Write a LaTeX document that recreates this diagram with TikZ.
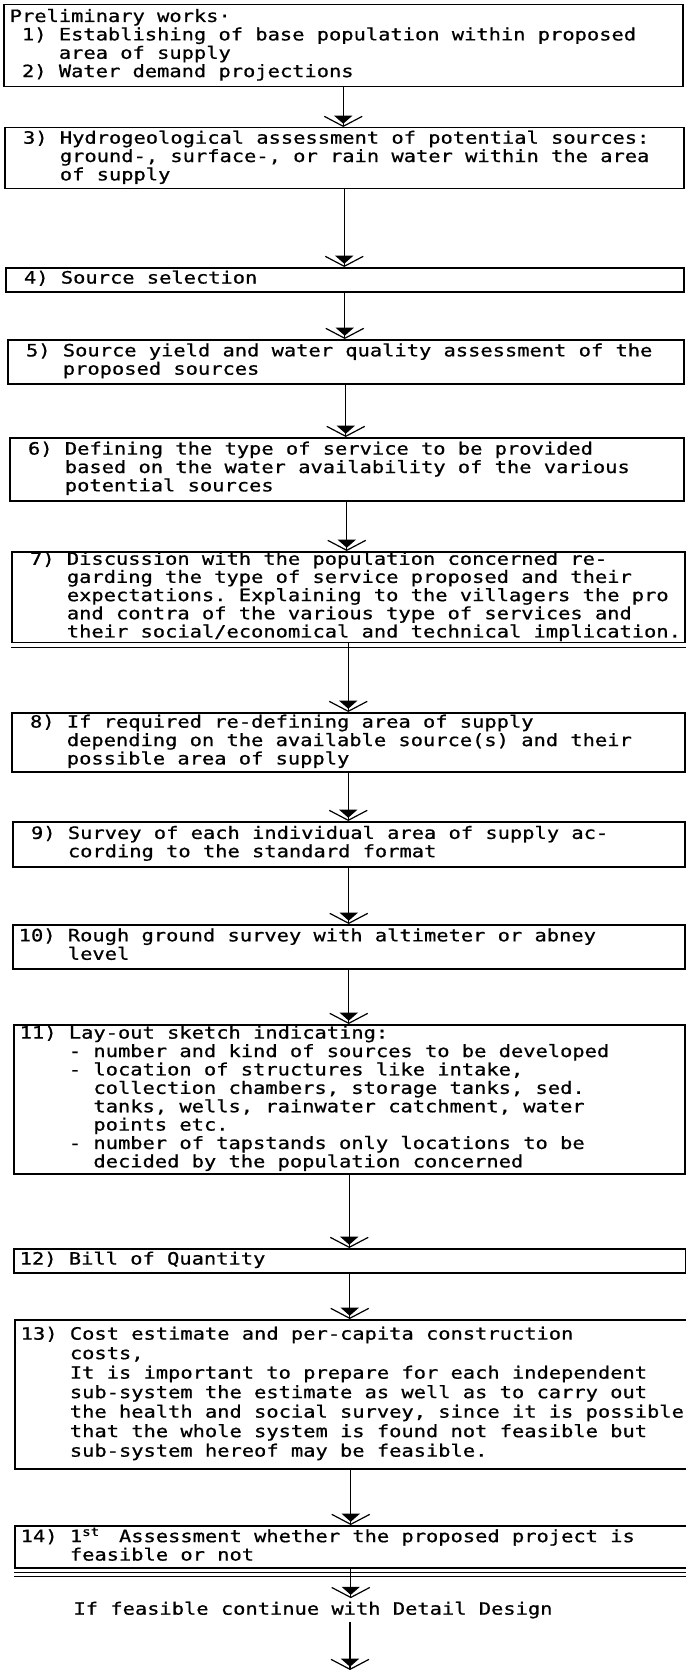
\documentclass[tikz,border=0pt]{standalone}
\usepackage{fontspec}
\setmainfont{DejaVu Sans Mono}[FakeStretch=1.2, FakeBold=0.8]
\usetikzlibrary{arrows.meta,positioning}
\newcommand{\stepfont}{\fontsize{17}{18}\selectfont\frenchspacing}
\newcommand{\steplines}[1]{\spaceskip=0pt\xspaceskip=0pt\begin{tabular}{@{}l@{}}#1\end{tabular}}
\newcommand{\padone}{\phantom{0}}
\newcommand{\padfour}{\phantom{0000}}
\newcommand{\padsix}{\phantom{000000}}

\begin{document}
\begin{tikzpicture}[x=1pt, y=-1pt,
    stepbox/.style={rectangle, draw, line width=1.5pt, anchor=north west, inner xsep=6pt, inner ysep=0pt, align=left, font=\stepfont},
    flow/.style={-{Triangle[width=18pt,length=8pt,sep=-8pt]Straight Barb[width=38pt,length=10pt,line width=1.2pt]}, line width=1.2pt}
]
    \useasboundingbox (0,0) rectangle (685,1672);

    % Steps
    \node[stepbox, text width=667pt, minimum height=82pt] (s1) at (3,4) {\steplines{
        Preliminary works·\\
        \padone1) Establishing of base population within proposed\\
        \padfour area of supply\\
        \padone2) Water demand projections}
    };

    \node[stepbox, text width=667pt, minimum height=61pt] (s3) at (4,127) {\steplines{
        \padone3) Hydrogeological assessment of potential sources:\\
        \padfour ground-, surface-, or rain water within the area\\
        \padfour of supply}
    };

    \node[stepbox, text width=666pt, minimum height=24pt] (s4) at (5,267) {\steplines{
        \padone4) Source selection}
    };

    \node[stepbox, text width=664pt, minimum height=44pt] (s5) at (7,339) {\steplines{
        \padone5) Source yield and water quality assessment of the\\
        \padfour proposed sources}
    };

    \node[stepbox, text width=662pt, minimum height=63pt] (s6) at (9,437) {\steplines{
        \padone6) Defining the type of service to be provided\\
        \padfour based on the water availability of the various\\
        \padfour potential sources}
    };

    \node[stepbox, text width=661pt, minimum height=90pt, font=\fontsize{17}{17.4}\selectfont\frenchspacing] (s7) at (11,551) {\steplines{
        \padone7) Discussion with the population concerned re-\\
        \padfour garding the type of service proposed and their\\
        \padfour expectations. Explaining to the villagers the pro\\
        \padfour and contra of the various type of services and\\
        \padfour their social/economical and technical implication.}
    };

    \node[stepbox, text width=661pt, minimum height=59pt] (s8) at (11,712) {\steplines{
        \padone8) If required re-defining area of supply\\
        \padfour depending on the available source(s) and their\\
        \padfour possible area of supply}
    };

    \node[stepbox, text width=660pt, minimum height=45pt] (s9) at (12,821) {\steplines{
        \padone9) Survey of each individual area of supply ac-\\
        \padfour cording to the standard format}
    };

    \node[stepbox, text width=660pt, minimum height=44pt] (s10) at (12,924) {\steplines{
        10) Rough ground survey with altimeter or abney\\
        \padfour level}
    };

    \node[stepbox, text width=659pt, minimum height=149pt] (s11) at (13,1024) {\steplines{
        11) Lay-out sketch indicating:\\
        \padfour - number and kind of sources to be developed\\
        \padfour - location of structures like intake,\\
        \padsix collection chambers, storage tanks, sed.\\
        \padsix tanks, wells, rainwater catchment, water\\
        \padsix points etc.\\
        \padfour - number of tapstands only locations to be\\
        \padsix decided by the population concerned}
    };

    \node[stepbox, text width=660pt, minimum height=24pt] (s12) at (13,1248) {\steplines{
        12) Bill of Quantity}
    };

    \node[stepbox, text width=660pt, minimum height=149pt, font=\fontsize{17}{19.5}\selectfont\frenchspacing] (s13) at (14,1319) {\steplines{
        13) Cost estimate and per-capita construction\\
        \padfour costs,\\
        \padfour It is important to prepare for each independent\\
        \padfour sub-system the estimate as well as to carry out\\
        \padfour the health and social survey, since it is possible\\
        \padfour that the whole system is found not feasible but\\
        \padfour sub-system hereof may be feasible.}
    };

    \node[stepbox, text width=660pt, minimum height=42pt] (s14) at (14,1525) {\steplines{
        14) 1\rlap{\textsuperscript{st}}\phantom{00} Assessment whether the proposed project is\\
        \padfour feasible or not}
    };

    \node[font=\stepfont, anchor=west] (cont) at (70,1610) {If feasible continue with Detail Design};
    \coordinate (end) at (350,1670);

    % Heavy edges
    \draw[line width=3pt] (s7.north east) -- (s7.south east);
    \draw[line width=0.8pt] ([yshift=-4pt]s7.south west) -- ([yshift=-4pt]s7.south east);
    \draw[line width=1.6pt] ([yshift=-4pt]s14.south west) -- ([yshift=-4pt]s14.south east);
    \draw[line width=1.2pt] ([yshift=-8pt]s14.south west) -- ([yshift=-8pt]s14.south east);

    % Arrows
    \draw[flow] (s1.south) -- (s1.south |- s3.north);
    \draw[flow] (s3.south) -- (s3.south |- s4.north);
    \draw[flow] (s4.south) -- (s4.south |- s5.north);
    \draw[flow] (s5.south) -- (s5.south |- s6.north);
    \draw[flow] (s6.south) -- (s6.south |- s7.north);
    \draw[flow] (s7.south) -- (s7.south |- s8.north);
    \draw[flow] (s8.south) -- (s8.south |- s9.north);
    \draw[flow] (s9.south) -- (s9.south |- s10.north);
    \draw[flow] (s10.south) -- (s10.south |- s11.north);
    \draw[flow] (s11.south) -- (s11.south |- s12.north);
    \draw[flow] (s12.south) -- (s12.south |- s13.north);
    \draw[flow] (s13.south) -- (s13.south |- s14.north);
    \draw[flow] (s14.south) -- (s14.south |- cont.north);
    \draw[flow] (end |- cont.south) -- (end);
\end{tikzpicture}
\end{document}
